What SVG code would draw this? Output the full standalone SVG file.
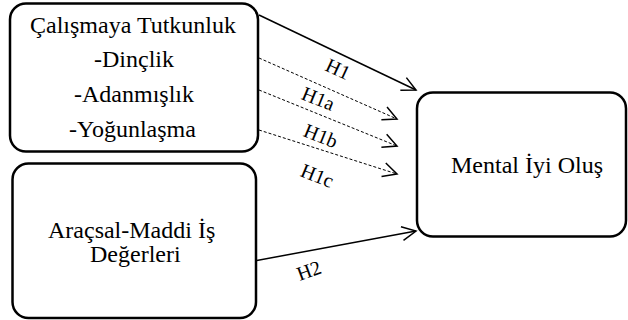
<svg xmlns="http://www.w3.org/2000/svg" width="628" height="320" viewBox="0 0 628 320">
<defs>
<marker id="ah" markerUnits="userSpaceOnUse" markerWidth="20" markerHeight="20" refX="15" refY="8" orient="auto" viewBox="0 0 20 16">
<path d="M1,1 L15,8 L1,15" fill="none" stroke="#000" stroke-width="1.5"/>
</marker>
</defs>
<rect width="628" height="320" fill="#fff"/>
<g id="connectors" fill="none" stroke="#000">
<line stroke-width="1.5" x1="259" y1="15" x2="416" y2="90" marker-end="url(#ah)"/>
<line stroke-width="1" stroke-dasharray="3 2" x1="259" y1="58" x2="397" y2="119" marker-end="url(#ah)"/>
<line stroke-width="1" stroke-dasharray="3 2" x1="259" y1="90" x2="397" y2="146" marker-end="url(#ah)"/>
<line stroke-width="1" stroke-dasharray="3 2" x1="259" y1="130" x2="397" y2="174" marker-end="url(#ah)"/>
<line stroke-width="1.5" x1="254" y1="261" x2="416" y2="231" marker-end="url(#ah)"/>
</g>
<g id="labels">
<text font-family="Liberation Serif" font-size="20" fill="#000" x="-12" y="0" transform="translate(335,75) rotate(25)">H1</text>
<text font-family="Liberation Serif" font-size="20" fill="#000" x="-17" y="0" transform="translate(316,105) rotate(22)">H1a</text>
<text font-family="Liberation Serif" font-size="20" fill="#000" x="-17" y="0" transform="translate(318,142) rotate(22)">H1b</text>
<text font-family="Liberation Serif" font-size="20" fill="#000" x="-17" y="0" transform="translate(315,182) rotate(22)">H1c</text>
<text font-family="Liberation Serif" font-size="20" fill="#000" x="-12" y="0" transform="translate(311,277) rotate(-20)">H2</text>
</g>
<g id="node-tutkunluk">
<rect fill="#fff" stroke="#000" stroke-width="2.5" x="10" y="3.5" width="248" height="148" rx="16"/>
<text font-family="Liberation Serif" font-size="24" fill="#000" x="30" y="33">Çalışmaya Tutkunluk</text>
<text font-family="Liberation Serif" font-size="24" fill="#000" x="94" y="67">-Dinçlik</text>
<text font-family="Liberation Serif" font-size="24" fill="#000" x="74" y="102">-Adanmışlık</text>
<text font-family="Liberation Serif" font-size="24" fill="#000" x="69" y="137">-Yoğunlaşma</text>
</g>
<g id="node-degerler">
<rect fill="#fff" stroke="#000" stroke-width="2.5" x="12.5" y="163.5" width="243.5" height="154.5" rx="16"/>
<text font-family="Liberation Serif" font-size="24" fill="#000" x="48" y="238">Araçsal-Maddi İş</text>
<text font-family="Liberation Serif" font-size="24" fill="#000" x="90" y="262">Değerleri</text>
</g>
<g id="node-mental">
<rect fill="#fff" stroke="#000" stroke-width="2.5" x="417" y="92.5" width="209" height="144" rx="16"/>
<text font-family="Liberation Serif" font-size="24" fill="#000" x="451" y="173">Mental İyi Oluş</text>
</g>
</svg>
